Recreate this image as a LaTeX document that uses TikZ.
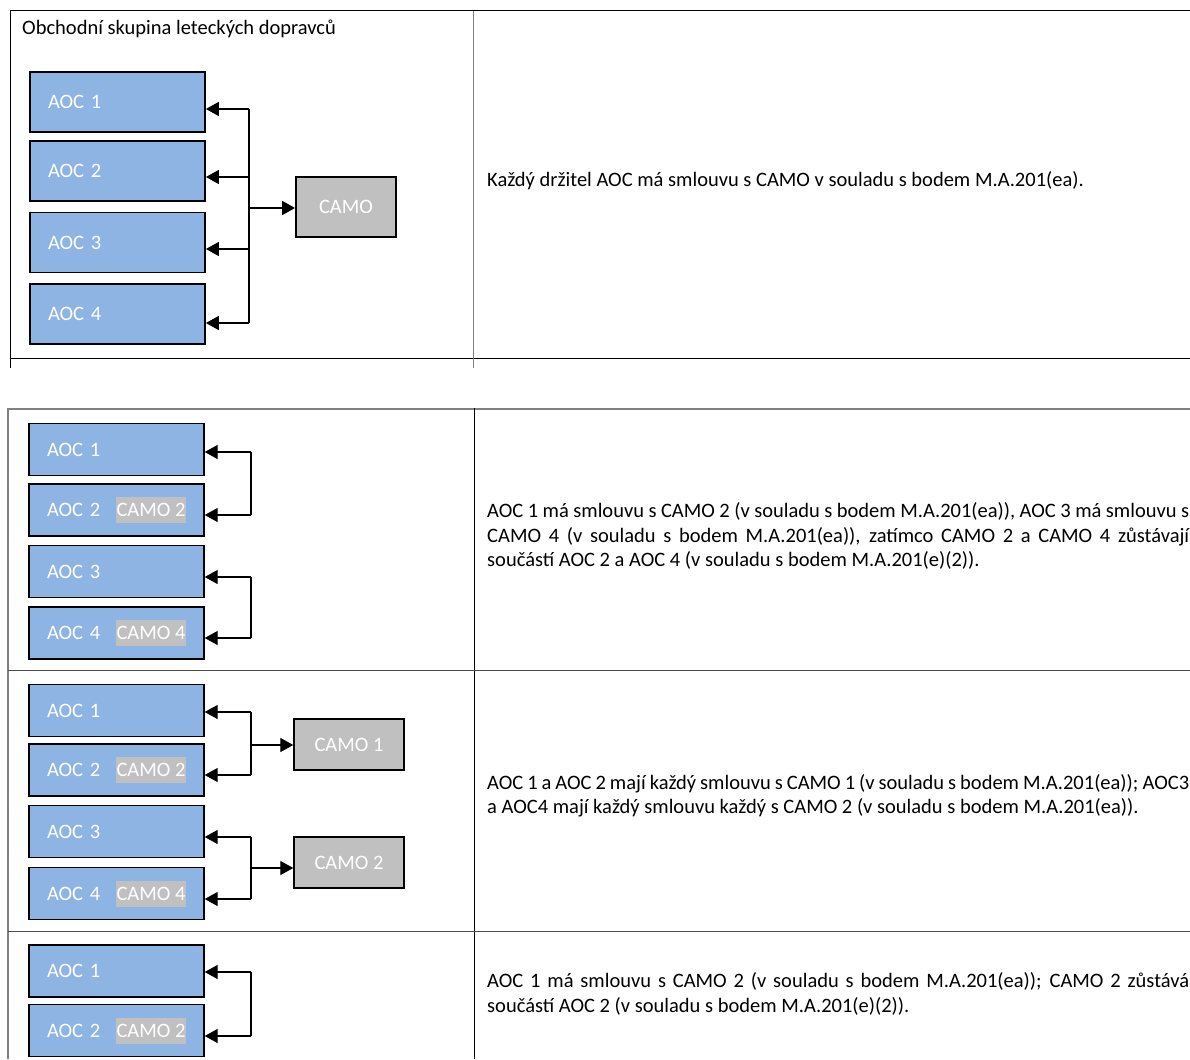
\documentclass[tikz,border=0pt]{standalone}
\usepackage{fontspec}
\setmainfont{Carlito}
\usetikzlibrary{arrows.meta}

\definecolor{aocblue}{RGB}{142,180,227}
\definecolor{camogray}{RGB}{192,192,192}
\definecolor{rulegray}{RGB}{128,128,128}

\begin{document}
\begin{tikzpicture}[x=1pt,y=-1pt]
\tikzset{edge/.style = {->,> = {Triangle[length=13pt,width=14pt]},line width=1.3pt},
  aoc/.style = {draw=black,fill=aocblue,text=white,line width=1.4pt,
    text width=139pt,inner xsep=18pt,inner ysep=0pt,minimum height=52pt,
    align=left,font=\fontsize{20.5}{25}\selectfont},
  camo/.style = {draw=black,fill=camogray,text=white,line width=1.4pt,
    minimum width=110pt,minimum height=51pt,font=\fontsize{20.5}{25}\selectfont},
  tag/.style = {fill=camogray,text=white,inner sep=0pt,minimum width=70pt,
    minimum height=26pt,font=\fontsize{20.5}{25}\selectfont},
  desc/.style = {anchor=west,inner sep=0pt,align=left,
    font=\fontsize{20.5}{24.5}\selectfont}}

\useasboundingbox (0,0) rectangle (1190,1059);

% table frames
\draw[line width=1pt] (10,11) -- (1190,11) (10,358) -- (1190,358) (10,11) -- (10,368);
\draw[line width=1pt,rulegray] (473.5,11) -- (473.5,368);
\draw[line width=1.3pt,rulegray] (1190,409) -- (8,409) -- (8,1059);
\draw[line width=1pt] (474,408) -- (474,1059);
\draw[line width=1pt,black!70] (8,670) -- (1190,670) (8,931) -- (1190,931);

% first table
\node[anchor=west,inner sep=0pt,font=\fontsize{20.5}{25}\selectfont] (title) at (22,29) {Obchodní skupina leteckých dopravců};
\node[aoc,minimum height=60pt,line width=1.8pt] (A1) at (117.5,102) {AOC 1};
\node[aoc,minimum height=60pt,line width=1.8pt] (A2) at (117.5,171) {AOC 2};
\node[aoc,minimum height=60pt,line width=1.8pt] (A3) at (117.5,242.5) {AOC 3};
\node[aoc,minimum height=60pt,line width=1.8pt] (A4) at (117.5,314) {AOC 4};
\node[camo,minimum width=100pt,minimum height=60pt,line width=1.8pt] (C) at (346,207) {CAMO};

\coordinate (J1) at (249,109);
\coordinate (J2) at (249,177);
\coordinate (J3) at (249,249);
\coordinate (J4) at (249,323);
\coordinate (J0) at (249,208);

\draw[line width=1.5pt] (J1) -- (J4);
\path [edge,line width=1.5pt]
(J1) edge[] (A1.east |- J1)
(J2) edge[] (A2.east |- J2)
(J3) edge[] (A3.east |- J3)
(J4) edge[] (A4.east |- J4)
(J0) edge[] (C.west |- J0)
;

\node[desc] (T1) at (487,180.5) {Každý držitel AOC má smlouvu s CAMO v souladu s bodem M.A.201(ea).};

% second table, first row
\node[aoc] (B1) at (116.5,449.5) {AOC 1};
\node[aoc] (B2) at (116.5,510) {AOC 2};
\node[aoc] (B3) at (116.5,571.5) {AOC 3};
\node[aoc] (B4) at (116.5,633) {AOC 4};
\node[tag] (B2t) at (151,510) {CAMO 2};
\node[tag] (B4t) at (151,633) {CAMO 4};

\coordinate (K1) at (251,452);
\coordinate (K2) at (251,515);
\coordinate (K3) at (251,577);
\coordinate (K4) at (251,638);

\draw[line width=1.3pt] (K1) -- (K2) (K3) -- (K4);
\path [edge]
(K1) edge[] (B1.east |- K1)
(K2) edge[] (B2.east |- K2)
(K3) edge[] (B3.east |- K3)
(K4) edge[] (B4.east |- K4)
;

\node[desc] (T2) at (487,536) {\makebox[702pt][s]{AOC 1 má smlouvu s CAMO 2 (v souladu s bodem M.A.201(ea)), AOC 3 má smlouvu s}\\
\makebox[702pt][s]{CAMO 4 (v souladu s bodem M.A.201(ea)), zatímco CAMO 2 a CAMO 4 zůstávají}\\
součástí AOC 2 a AOC 4 (v souladu s bodem M.A.201(e)(2)).};

% second table, second row
\node[aoc] (D1) at (116.5,710.5) {AOC 1};
\node[aoc] (D2) at (116.5,770) {AOC 2};
\node[aoc] (D3) at (116.5,831.5) {AOC 3};
\node[aoc] (D4) at (116.5,893.5) {AOC 4};
\node[tag] (D2t) at (151,770) {CAMO 2};
\node[tag] (D4t) at (151,893.5) {CAMO 4};
\node[camo] (E1) at (349,744.5) {CAMO 1};
\node[camo] (E2) at (349,862.5) {CAMO 2};

\coordinate (L1) at (251,712);
\coordinate (L2) at (251,775);
\coordinate (L3) at (251,837);
\coordinate (L4) at (251,899);
\coordinate (L5) at (251,745);
\coordinate (L6) at (251,868);

\draw[line width=1.3pt] (L1) -- (L2) (L3) -- (L4);
\path [edge]
(L1) edge[] (D1.east |- L1)
(L2) edge[] (D2.east |- L2)
(L3) edge[] (D3.east |- L3)
(L4) edge[] (D4.east |- L4)
(L5) edge[] (E1.west |- L5)
(L6) edge[] (E2.west |- L6)
;

\node[desc] (T3) at (487,796) {\makebox[702pt][s]{AOC 1 a AOC 2 mají každý smlouvu s CAMO 1 (v souladu s bodem M.A.201(ea)); AOC3}\\
a AOC4 mají každý smlouvu každý s CAMO 2 (v souladu s bodem M.A.201(ea)).};

% second table, third row
\node[aoc] (F1) at (116.5,971) {AOC 1};
\node[aoc] (F2) at (116.5,1030.5) {AOC 2};
\node[tag] (F2t) at (151,1030.5) {CAMO 2};

\coordinate (M1) at (251,972);
\coordinate (M2) at (251,1036);

\draw[line width=1.3pt] (M1) -- (M2);
\path [edge]
(M1) edge[] (F1.east |- M1)
(M2) edge[] (F2.east |- M2)
;

\node[desc] (T4) at (487,994) {\makebox[702pt][s]{AOC 1 má smlouvu s CAMO 2 (v souladu s bodem M.A.201(ea)); CAMO 2 zůstává}\\
součástí AOC 2 (v souladu s bodem M.A.201(e)(2)).};

\end{tikzpicture}
\end{document}
